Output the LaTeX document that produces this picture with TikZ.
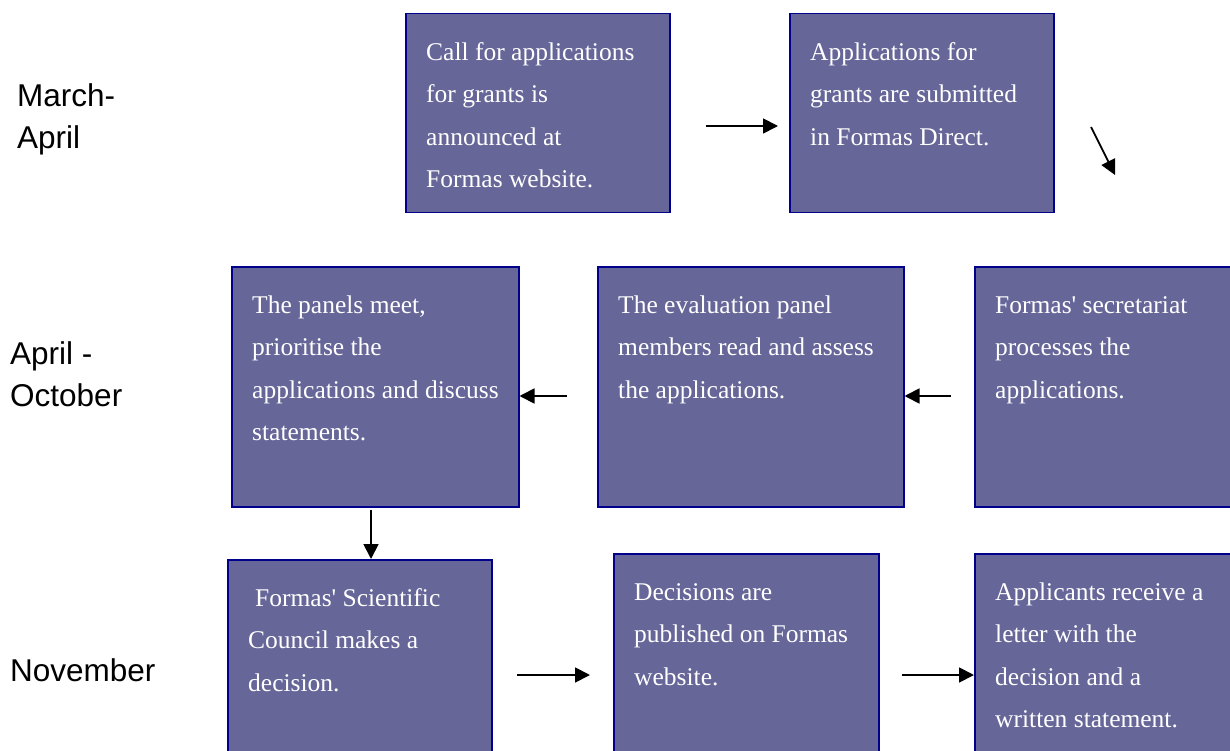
\documentclass[tikz,border=0pt]{standalone}
\usepackage{fontspec}
\setmainfont{Liberation Serif}
\newfontfamily\labelfont{Liberation Sans}
\usetikzlibrary{arrows.meta}
\definecolor{boxfill}{RGB}{102,102,153}
\definecolor{boxline}{RGB}{0,0,140}
\begin{document}
\begin{tikzpicture}[x=1pt,y=-1pt,
  box/.style={draw=boxline, fill=boxfill, line width=1.5pt, inner sep=0pt, anchor=north west},
  txt/.style={anchor=north west, inner sep=0pt, align=left, text=white, font=\fontsize{25.5}{42.5}\selectfont},
  lbl/.style={anchor=north west, inner sep=0pt, align=left, font=\labelfont\fontsize{31.5}{42}\selectfont},
  arr/.style={line width=1.8pt, -{Triangle[length=15pt,width=15pt]}}]
\useasboundingbox (0,0) rectangle (1230,751);
\clip (0,0) rectangle (1230,751);
% boxes
\node[box, minimum width=264pt, minimum height=199pt] (A) at (405,13) {};
\node[box, minimum width=264pt, minimum height=199pt] (B) at (789,13) {};
\node[box, minimum width=287pt, minimum height=240pt] (C) at (231,266) {};
\node[box, minimum width=306pt, minimum height=240pt] (D) at (597,266) {};
\node[box, minimum width=280pt, minimum height=240pt] (E) at (974,266) {};
\node[box, minimum width=264pt, minimum height=220pt] (F) at (227,559) {};
\node[box, minimum width=265pt, minimum height=220pt] (G) at (613,553) {};
\node[box, minimum width=280pt, minimum height=220pt] (H) at (974,553) {};
% texts
\node[txt] (At) at ([shift={(21pt,-29pt)}]A.north west) {\rule{0pt}{18pt}Call for applications\\for grants is\\announced at\\Formas website.};
\node[txt] (Bt) at ([shift={(21pt,-29pt)}]B.north west) {\rule{0pt}{18pt}Applications for\\grants are submitted\\in Formas Direct.};
\node[txt] (Ct) at ([shift={(21pt,-29pt)}]C.north west) {\rule{0pt}{18pt}The panels meet,\\prioritise the\\applications and discuss\\statements.};
\node[txt] (Dt) at ([shift={(21pt,-29pt)}]D.north west) {\rule{0pt}{18pt}The evaluation panel\\members read and assess\\the applications.};
\node[txt] (Et) at ([shift={(21pt,-29pt)}]E.north west) {\rule{0pt}{18pt}Formas\textquotesingle{} secretariat\\processes the\\applications.};
\node[txt] (Ft) at ([shift={(21pt,-29pt)}]F.north west) {\rule{0pt}{18pt}\hspace{7pt}Formas\textquotesingle{} Scientific\\Council makes a\\decision.};
\node[txt] (Gt) at ([shift={(21pt,-29pt)}]G.north west) {\rule{0pt}{18pt}Decisions are\\published on Formas\\website.};
\node[txt] (Ht) at ([shift={(21pt,-29pt)}]H.north west) {\rule{0pt}{18pt}Applicants receive a\\letter with the\\decision and a\\written statement.};
% period labels
\node[lbl] (L1) at (17,82.7) {\rule{0pt}{24pt}March-\\April};
\node[lbl] (L2) at (10,340) {\rule{0pt}{24pt}April -\\October};
\node[lbl] (L3) at (10,657) {\rule{0pt}{24pt}November};
% arrows
\coordinate (s1) at (706,126);
\coordinate (e1) at (778,126);
\coordinate (s2) at (1091,127);
\coordinate (e2) at (1115,175);
\coordinate (s3) at (951,396);
\coordinate (s4) at (567,396);
\coordinate (s5) at (371,510);
\coordinate (s6) at (517,675);
\coordinate (e6) at (590,675);
\coordinate (s7) at (902,675);
\draw[arr] (s1) -- (e1);
\draw[arr] (s2) -- (e2);
\draw[arr] (s3) -- (s3 -| D.east);
\draw[arr] (s4) -- (s4 -| C.east);
\draw[arr] (s5) -- (s5 |- F.north);
\draw[arr] (s6) -- (e6);
\draw[arr] (s7) -- (s7 -| H.west);
\end{tikzpicture}
\end{document}
